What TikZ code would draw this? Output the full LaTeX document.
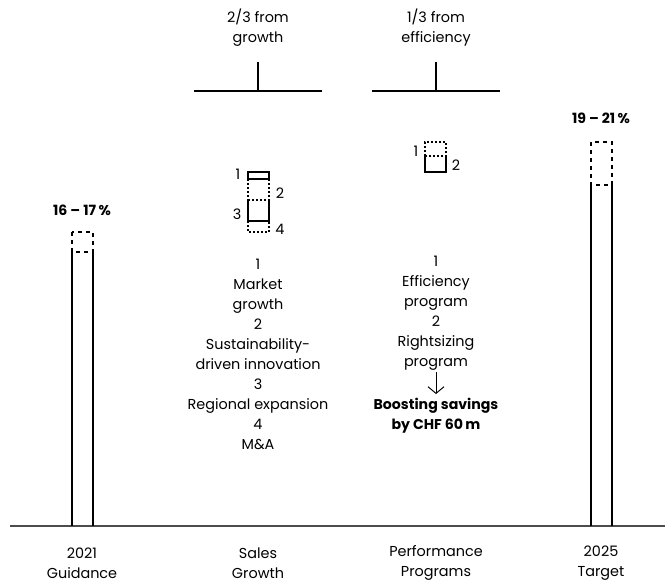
\documentclass[tikz,border=0pt]{standalone}
\usepackage{fontspec}
\setmainfont{Poppins}
\usetikzlibrary{arrows.meta}

\tikzset{
	txt/.style={align=center, inner sep=0pt, font=\fontsize{10.8}{15}\selectfont},
	boldtxt/.style={txt, font=\fontsize{10.6}{15}\selectfont\bfseries},
	barline/.style={line width=0.95pt, black},
	dashbox/.style={barline, dash pattern=on 3pt off 3pt},
	dotbox/.style={line width=0.8pt, dash pattern=on 1.5pt off 1.5pt},
	solidbox/.style={line width=0.8pt},
	axisline/.style={line width=1.1pt, black!70},
}

\begin{document}
\begin{tikzpicture}[x=0.75pt,y=-0.75pt]
	\useasboundingbox (0,0) rectangle (665,582);
	
	% axis
	\draw[axisline] (10,526) -- (665,526);
	
	% 2021 guidance bar
	\draw[barline] (72,526) -- (72,252) (93,252) -- (93,526);
	\draw[dashbox] (72,232) rectangle (93,252);
	\node[boldtxt] (guidval) at (82,210) {16 – 17\,\%};
	
	% 2025 target bar
	\draw[barline] (591,526) -- (591,185) (612,185) -- (612,526);
	\draw[dashbox] (591,142) rectangle (612,185);
	\node[boldtxt] (targval) at (601,118) {19 – 21\,\%};
	
	% brackets
	\draw[barline] (194,91) -- (322,91) (258,62) -- (258,91);
	\draw[barline] (372,91) -- (500,91) (436,62) -- (436,91);
	\node[txt] (growhead) at (258,28) {2/3 from\\growth};
	\node[txt] (effhead)  at (436,28) {1/3 from\\efficiency};
	
	% sales growth mini stack
	\draw[solidbox] (248,172) rectangle (269,179);
	\draw[dotbox] (248,179) -- (248,200) (269,179) -- (269,200) (248,200) -- (269,200);
	\draw[solidbox] (248,200) -- (248,221) -- (269,221) -- (269,200);
	\draw[dotbox] (248,221) -- (248,232) -- (269,232) -- (269,221);
	\node[txt] (s1) at (238,174) {1};
	\node[txt] (s2) at (280,193) {2};
	\node[txt] (s3) at (237,214) {3};
	\node[txt] (s4) at (280,229) {4};
	
	% performance mini stack
	\draw[dotbox] (425,156) -- (425,142) -- (446,142) -- (446,156) -- cycle;
	\draw[solidbox] (425,156) -- (425,172) -- (446,172) -- (446,156);
	\node[txt] (p1) at (416,151) {1};
	\node[txt] (p2) at (456,165) {2};
	
	% drivers
	\node[txt] (growlist) at (258,354) {1\\Market\\growth\\2\\Sustainability-\\driven innovation\\3\\Regional expansion\\4\\M\&A};
	\node[txt] (efflist) at (436,313) {1\\Efficiency\\program\\2\\Rightsizing\\program};
	\node[boldtxt] (savings) at (436,416) {Boosting savings\\by CHF 60\,m};
	\draw[line width=0.7pt, -{Straight Barb[length=5pt,width=12pt]}] (436,372) -- (436,394);
	
	% categories
	\node[txt] (c1) at (82,563)  {2021\\Guidance};
	\node[txt] (c2) at (258,563) {Sales\\Growth};
	\node[txt] (c3) at (436,563) {Performance\\Programs};
	\node[txt] (c4) at (601,563) {2025\\Target};
	
\end{tikzpicture}
\end{document}
